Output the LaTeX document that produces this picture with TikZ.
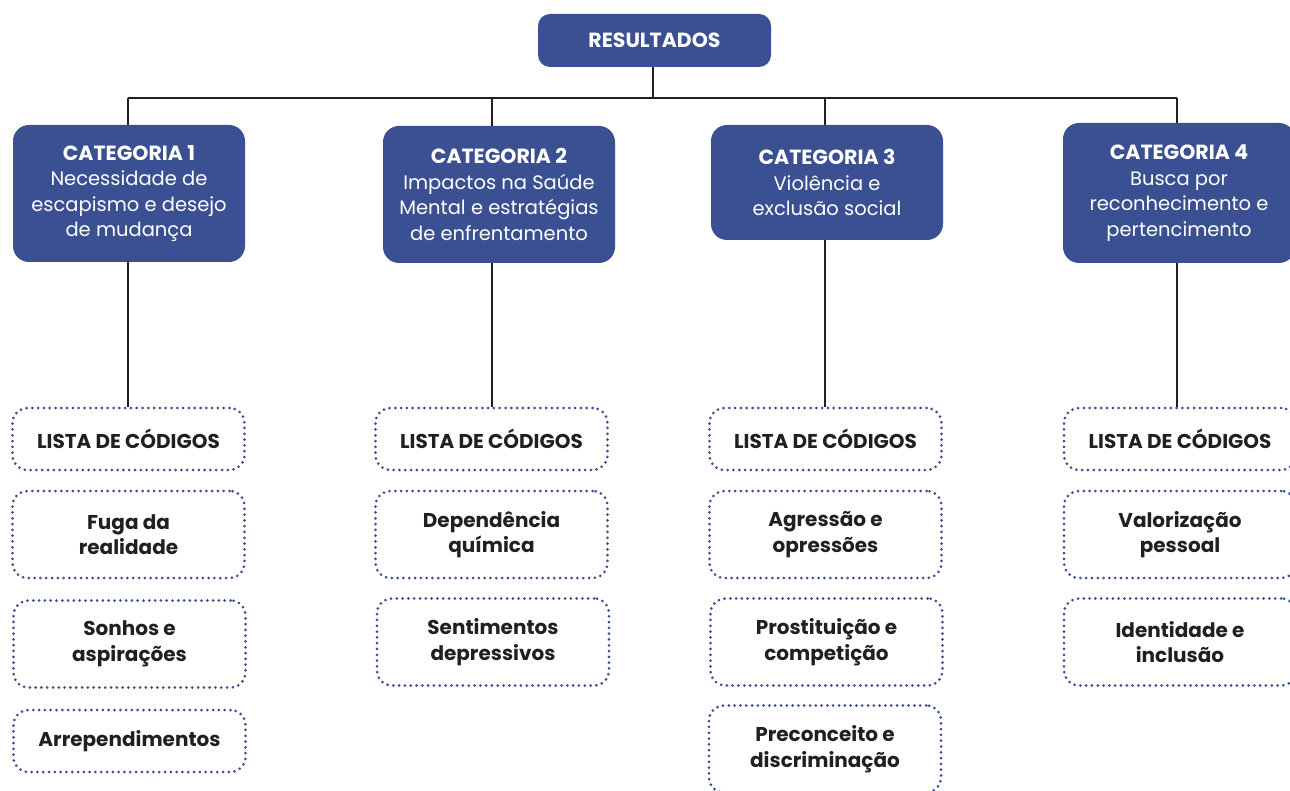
\documentclass[tikz,border=0pt]{standalone}
\usepackage{fontspec}
\setmainfont{Poppins}
\definecolor{catblue}{RGB}{58,80,146}
\definecolor{txtdark}{RGB}{35,31,32}
\tikzset{%
  rootbox/.style={draw=none,fill=catblue,rounded corners=12,text=white,font=\bfseries\fontsize{20.5}{24}\selectfont,minimum width=233,minimum height=53},
  catbox/.style={draw=none,fill=catblue,rounded corners=16,text=white,align=center,font=\fontsize{19.5}{25.5}\selectfont,minimum width=232,inner sep=0},
  codebox/.style={draw=catblue,line width=3,dash pattern=on 0pt off 5.8pt,line cap=round,rounded corners=15,text=txtdark,align=center,font=\bfseries\fontsize{20}{25.5}\selectfont,minimum width=232,inner sep=0},
  headbox/.style={codebox,minimum height=62},
  itembox/.style={codebox,minimum height=87},
  link/.style={draw=txtdark,line width=2}
}
\newcommand{\cattitle}[1]{{\bfseries\fontsize{20.5}{25.5}\selectfont #1}}
\begin{document}
\begin{tikzpicture}[x=1pt,y=-1pt]
  \useasboundingbox (0,0) rectangle (1290,791);
  % top
  \node[rootbox] (res) at (654.5,40.5) {RESULTADOS};
  \node[catbox,minimum height=137] (cat1) at (129,193.5) {\cattitle{CATEGORIA 1}\\Necessidade de\\escapismo e desejo\\de mudança};
  \node[catbox,minimum height=137] (cat2) at (499,194.5) {\cattitle{CATEGORIA 2}\\Impactos na Saúde\\Mental e estratégias\\de enfrentamento};
  \node[catbox,minimum height=115] (cat3) at (827,182.5) {\cattitle{CATEGORIA 3}\\Violência e\\exclusão social};
  \node[catbox,minimum height=140] (cat4) at (1179,193) {\cattitle{CATEGORIA 4}\\Busca por\\reconhecimento e\\pertencimento};
  % code lists
  \node[headbox] (list1) at (128.5,439) {LISTA DE CÓDIGOS};
  \node[headbox] (list2) at (491.5,439) {LISTA DE CÓDIGOS};
  \node[headbox] (list3) at (825.5,439) {LISTA DE CÓDIGOS};
  \node[headbox] (list4) at (1180,439) {LISTA DE CÓDIGOS};
  \node[itembox] (code11) at (128.5,534.5) {Fuga da\\realidade};
  \node[itembox] (code12) at (129.5,644) {Sonhos e\\aspirações};
  \node[headbox] (code13) at (129.5,741) {Arrependimentos};
  \node[itembox] (code21) at (491.5,534.5) {Dependência\\química};
  \node[itembox] (code22) at (493,642) {Sentimentos\\depressivos};
  \node[itembox] (code31) at (825.5,534.5) {Agressão e\\opressões};
  \node[itembox] (code32) at (826.5,642) {Prostituição e\\competição};
  \node[itembox] (code33) at (825,749) {Preconceito e\\discriminação};
  \node[itembox] (code41) at (1180,534.5) {Valorização\\pessoal};
  \node[itembox] (code42) at (1180,642) {Identidade e\\inclusão};
  % connectors
  \coordinate (bus) at (653,98);
  \coordinate (j1) at (128,98);
  \coordinate (j2) at (492,98);
  \coordinate (j3) at (825,98);
  \coordinate (j4) at (1177,98);
  \draw[link] (res.south -| bus) -- (bus);
  \draw[link] (j1) -- (j4);
  \draw[link] (j1) -- (j1 |- cat1.north);
  \draw[link] (j2) -- (j2 |- cat2.north);
  \draw[link] (j3) -- (j3 |- cat3.north);
  \draw[link] (j4) -- (j4 |- cat4.north);
  \draw[link] (j1 |- cat1.south) -- (j1 |- list1.north);
  \draw[link] (j2 |- cat2.south) -- (j2 |- list2.north);
  \draw[link] (j3 |- cat3.south) -- (j3 |- list3.north);
  \draw[link] (j4 |- cat4.south) -- (j4 |- list4.north);
\end{tikzpicture}
\end{document}
